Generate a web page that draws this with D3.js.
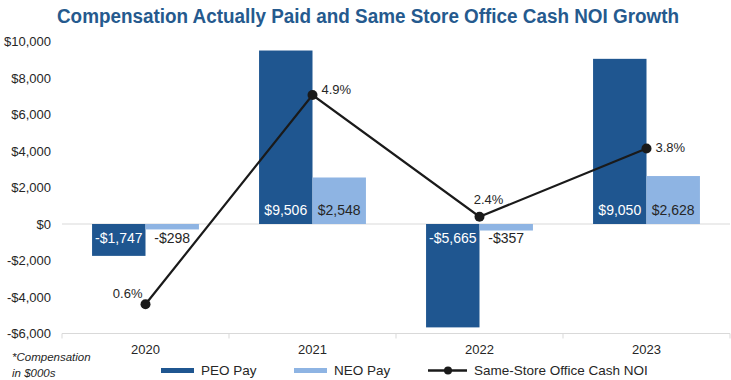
<!DOCTYPE html>
<html><head><meta charset="utf-8">
<script src="https://cdn.jsdelivr.net/npm/d3@7/dist/d3.min.js"></script>
<style>html,body{margin:0;padding:0;background:#fff;}svg{display:block;font-family:"Liberation Sans",Arial,sans-serif;}</style>
</head><body>
<script>
const years = ["2020","2021","2022","2023"];
const peoPay = [-1747, 9506, -5665, 9050];
const neoPay = [-298, 2548, -357, 2628];
const noiGrowth = [0.6, 4.9, 2.4, 3.8];
const yTicks = [-6000,-4000,-2000,0,2000,4000,6000,8000,10000];
const seriesNames = ["PEO Pay","NEO Pay","Same-Store Office Cash NOI"];
const title = "Compensation Actually Paid and Same Store Office Cash NOI Growth";

const W = 731, H = 380;
const PEO = "#1f5690", NEO = "#8eb4e3", LINE = "#1a1a1a", GRID = "#d9d9d9";
const svg = d3.select("body").append("svg").attr("width", W).attr("height", H);

const x = d3.scaleBand().domain(years).range([62, 730]).paddingInner(0.36).paddingOuter(0.18);
const xs = d3.scaleBand().domain(["peo","neo"]).range([0, x.bandwidth()]);
const y = d3.scaleLinear().domain([-6000, 10000]).range([333.5, 41.5]);
const y2 = d3.scaleLinear().domain([0, 6]).range([333.5, 41.5]);

// title
svg.append("text").attr("x", 368).attr("y", 23).attr("text-anchor", "middle")
  .attr("font-size", 20).attr("font-weight", "bold").attr("fill", "#255a8e")
  .attr("textLength", 622).attr("lengthAdjust", "spacingAndGlyphs").text(title);

// y axis labels
const yAxis = d3.axisLeft(y).tickValues(yTicks).tickSize(0).tickPadding(0)
  .tickFormat(d => (d < 0 ? "-$" : "$") + d3.format(",")(Math.abs(d)));
const gy = svg.append("g").attr("transform", "translate(51,0)").call(yAxis);
gy.select(".domain").remove();
gy.selectAll("text").attr("font-size", 13).attr("fill", "#262626").attr("font-family", "Liberation Sans, Arial, sans-serif");

// gridlines (zero + bottom)
svg.append("line").attr("x1", 62).attr("x2", 730).attr("y1", y(0)).attr("y2", y(0)).attr("stroke", GRID);
svg.append("line").attr("x1", 62).attr("x2", 730).attr("y1", y(-6000)).attr("y2", y(-6000)).attr("stroke", GRID);
const bounds = [62].concat(years.map(d => x(d) + x.bandwidth() + (x.step() - x.bandwidth()) / 2));
svg.selectAll(".tk").data(bounds).enter().append("line")
  .attr("x1", d => d).attr("x2", d => d).attr("y1", y(-6000)).attr("y2", y(-6000) + 5).attr("stroke", GRID);

// x labels
const xAxis = d3.axisBottom(x).tickSize(0).tickPadding(0);
const gx = svg.append("g").attr("transform", "translate(0,345)").call(xAxis);
gx.select(".domain").remove();
gx.selectAll("text").attr("font-size", 13).attr("fill", "#262626").attr("font-family", "Liberation Sans, Arial, sans-serif");

// bars
const rows = years.map((yr, i) => ({yr, peo: peoPay[i], neo: neoPay[i], g: noiGrowth[i]}));
const groups = svg.selectAll(".grp").data(rows).enter().append("g").attr("transform", d => `translate(${x(d.yr)},0)`);
[["peo", PEO, "#fff"], ["neo", NEO, "#262626"]].forEach(([k, col, tcol]) => {
  groups.append("rect").attr("x", xs(k)).attr("width", xs.bandwidth())
    .attr("y", d => y(Math.max(0, d[k]))).attr("height", d => Math.abs(y(d[k]) - y(0))).attr("fill", col);
  groups.append("text").attr("x", xs(k) + xs.bandwidth() / 2)
    .attr("y", d => y(0) + (d[k] >= 0 ? -14 : 14)).attr("dy", "0.36em")
    .attr("text-anchor", "middle").attr("font-size", 14).attr("fill", tcol)
    .text(d => (d[k] < 0 ? "-$" : "$") + d3.format(",")(Math.abs(d[k])));
});

// line
const cx = d => x(d.yr) + x.bandwidth() / 2;
svg.append("path").datum(rows).attr("fill", "none").attr("stroke", LINE).attr("stroke-width", 2.2)
  .attr("d", d3.line().x(cx).y(d => y2(d.g)));
svg.selectAll(".pt").data(rows).enter().append("circle")
  .attr("cx", cx).attr("cy", d => y2(d.g)).attr("r", 5).attr("fill", LINE);
const lblOff = [[-3, -11, "end"], [9, -6, "start"], [9, -17, "middle"], [9, -1, "start"]];
svg.selectAll(".pl").data(rows).enter().append("text")
  .attr("x", (d, i) => cx(d) + lblOff[i][0]).attr("y", (d, i) => y2(d.g) + lblOff[i][1]).attr("dy", "0.36em")
  .attr("text-anchor", (d, i) => lblOff[i][2]).attr("font-size", 13).attr("fill", "#262626")
  .text(d => d.g.toFixed(1) + "%");

// legend
const lg = svg.append("g");
lg.append("rect").attr("x", 161).attr("y", 368).attr("width", 33).attr("height", 5).attr("fill", PEO);
lg.append("text").attr("x", 201).attr("y", 370.5).attr("dy", "0.36em").attr("font-size", 13.5).attr("fill", "#262626").text(seriesNames[0]);
lg.append("rect").attr("x", 294).attr("y", 368).attr("width", 33).attr("height", 5).attr("fill", NEO);
lg.append("text").attr("x", 334).attr("y", 370.5).attr("dy", "0.36em").attr("font-size", 13.5).attr("fill", "#262626").text(seriesNames[1]);
lg.append("line").attr("x1", 428).attr("x2", 467).attr("y1", 370.5).attr("y2", 370.5).attr("stroke", LINE).attr("stroke-width", 2.5);
lg.append("circle").attr("cx", 448).attr("cy", 370.5).attr("r", 4).attr("fill", LINE);
lg.append("text").attr("x", 474).attr("y", 370.5).attr("dy", "0.36em").attr("font-size", 13.5).attr("fill", "#262626").text(seriesNames[2]);

// footnote
svg.append("text").attr("x", 12).attr("y", 361).attr("font-size", 11.5).attr("font-style", "italic").attr("fill", "#262626").text("*Compensation");
svg.append("text").attr("x", 12).attr("y", 377).attr("font-size", 11.5).attr("font-style", "italic").attr("fill", "#262626").text("in $000s");
</script>
</body></html>
